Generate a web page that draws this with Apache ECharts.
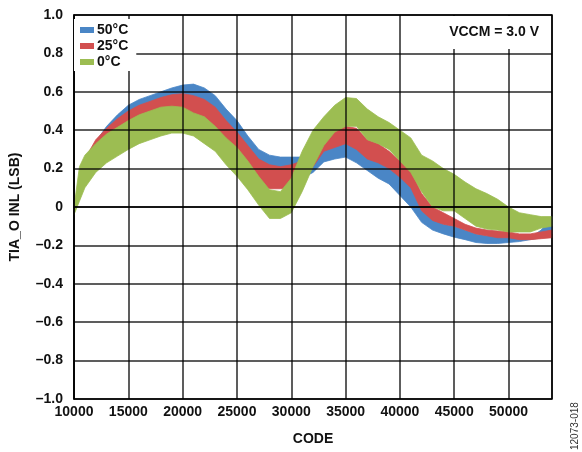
<!DOCTYPE html>
<html>
<head>
<meta charset="utf-8">
<script src="https://cdn.jsdelivr.net/npm/echarts@6/dist/echarts.min.js"></script>
<style>
  html, body { margin: 0; padding: 0; background: #fff; }
  #chart { width: 582px; height: 452px; }
</style>
</head>
<body>
<div id="chart"></div>
<script>
// x positions (CODE)
const codes = [10000, 10500, 11000, 12000, 13000, 14000, 15000, 16000, 17000, 18000, 19000,
  20000, 21000, 22000, 23000, 24000, 25000, 26000, 27000, 28000, 29000, 30000, 31000, 32000,
  33000, 34000, 35000, 36000, 37000, 38000, 39000, 40000, 41000, 42000, 43000, 44000, 45000,
  46000, 47000, 48000, 49000, 50000, 51000, 52000, 53000, 54000]

// 50°C band
const hot_hi = [-0.01, 0.14, 0.24, 0.34, 0.42, 0.48, 0.53, 0.56, 0.58, 0.6, 0.62,
  0.635, 0.64, 0.62, 0.58, 0.51, 0.45, 0.37, 0.3, 0.27, 0.26, 0.26, 0.26, 0.27,
  0.3, 0.32, 0.33, 0.31, 0.27, 0.25, 0.21, 0.16, 0.12, -0.02, -0.06, -0.09, -0.1,
  -0.12, -0.14, -0.15, -0.155, -0.16, -0.16, -0.16, -0.12, -0.05]
const hot_lo = [-0.02, 0.06, 0.13, 0.2, 0.27, 0.33, 0.38, 0.41, 0.43, 0.45, 0.47,
  0.48, 0.49, 0.47, 0.43, 0.36, 0.3, 0.22, 0.15, 0.12, 0.11, 0.12, 0.15, 0.18,
  0.235, 0.25, 0.26, 0.23, 0.19, 0.15, 0.12, 0.06, 0.0, -0.08, -0.12, -0.14, -0.157,
  -0.17, -0.185, -0.19, -0.19, -0.185, -0.18, -0.17, -0.16, -0.14]

// 25°C band
const mid_hi = [-0.01, 0.15, 0.25, 0.35, 0.41, 0.46, 0.5, 0.53, 0.55, 0.57, 0.585,
  0.59, 0.58, 0.56, 0.52, 0.45, 0.39, 0.32, 0.25, 0.22, 0.21, 0.22, 0.24, 0.27,
  0.36, 0.4, 0.42, 0.41, 0.35, 0.33, 0.29, 0.24, 0.19, 0.07, 0.0, -0.03, -0.06,
  -0.09, -0.11, -0.12, -0.125, -0.13, -0.14, -0.14, -0.13, -0.12]
const mid_lo = [-0.02, 0.06, 0.13, 0.21, 0.27, 0.32, 0.35, 0.38, 0.4, 0.42, 0.435,
  0.44, 0.43, 0.41, 0.37, 0.3, 0.24, 0.17, 0.11, 0.095, 0.095, 0.1, 0.18, 0.21,
  0.29, 0.31, 0.33, 0.3, 0.25, 0.23, 0.2, 0.155, 0.1, -0.02, -0.07, -0.09, -0.1,
  -0.12, -0.14, -0.15, -0.16, -0.16, -0.17, -0.17, -0.165, -0.16]

// 0°C band
const cold_hi = [0.0, 0.21, 0.27, 0.33, 0.38, 0.415, 0.45, 0.48, 0.5, 0.52, 0.525,
  0.52, 0.49, 0.47, 0.42, 0.36, 0.31, 0.24, 0.16, 0.09, 0.08, 0.15, 0.29, 0.4,
  0.47, 0.53, 0.57, 0.565, 0.51, 0.47, 0.44, 0.4, 0.36, 0.27, 0.24, 0.2, 0.17,
  0.13, 0.095, 0.07, 0.04, 0.0, -0.03, -0.04, -0.05, -0.05]
const cold_lo = [-0.04, 0.03, 0.1, 0.18, 0.23, 0.265, 0.3, 0.33, 0.35, 0.37, 0.385,
  0.385, 0.37, 0.33, 0.29, 0.22, 0.16, 0.09, 0.01, -0.06, -0.06, -0.03, 0.08, 0.21,
  0.32, 0.39, 0.42, 0.42, 0.35, 0.33, 0.3, 0.24, 0.18, 0.08, 0.0, -0.02, -0.02,
  -0.06, -0.1, -0.115, -0.12, -0.13, -0.13, -0.13, -0.11, -0.1]

const seriesNames = ['50°C', '25°C', '0°C']
const colors = ['#4a86c6', '#d24f4f', '#9cbd52']
const bands = [[hot_lo, hot_hi], [mid_lo, mid_hi], [cold_lo, cold_hi]]
const font = '"Liberation Sans", Arial, Helvetica, sans-serif'

// 带状区域：在第一个数据项里用 api.coord 画整条多边形
function renderBand(params, api) {
  if (params.dataIndexInside !== 0) return null
  const n = params.dataInsideLength
  const top = []
  const bottom = []
  for (let k = 0; k < n; k++) {
    const x = api.value(0, k)
    top.push(api.coord([x, api.value(2, k)]))
    bottom.push(api.coord([x, api.value(1, k)]))
  }
  const color = api.visual('color')
  return {
    type: 'polygon',
    shape: { points: top.concat(bottom.reverse()) },
    style: { fill: color, stroke: color, lineWidth: 0.8 }
  }
}

const series = bands.map(([lo, hi], i) => ({
  name: seriesNames[i],
  type: 'custom',
  renderItem: renderBand,
  itemStyle: { color: colors[i] },
  encode: { x: 0, y: [1, 2] },
  data: codes.map((c, k) => [c, lo[k], hi[k]])
}))

const chart = echarts.init(document.getElementById('chart'))
chart.setOption({
  animation: false,
  textStyle: { fontFamily: font },
  grid: {
    left: 73, top: 15, right: 30, bottom: 53,
    show: true, borderColor: '#000', borderWidth: 1.5, backgroundColor: 'transparent'
  },
  legend: {
    data: seriesNames,
    orient: 'vertical',
    left: 74, top: 19,
    padding: [4, 8, 2, 6],
    itemGap: 2,
    itemWidth: 14, itemHeight: 6,
    icon: 'rect',
    backgroundColor: '#fff',
    textStyle: { fontSize: 14, fontWeight: 'bold', color: '#111', fontFamily: font, padding: [0, 0, 0, -2] },
    z: 10
  },
  xAxis: {
    type: 'value',
    min: 10000, max: 54000, interval: 5000,
    z: 3,
    name: 'CODE',
    nameLocation: 'middle',
    nameGap: 33,
    nameTextStyle: { fontSize: 14, fontWeight: 'bold', color: '#111' },
    axisLine: { show: true, lineStyle: { color: '#000', width: 1.5 } },
    axisTick: { show: false },
    axisLabel: {
      fontSize: 14, fontWeight: 'bold', color: '#111', margin: 6,
      showMaxLabel: false,
      formatter: v => String(v)
    },
    splitLine: { show: true, lineStyle: { color: 'rgba(0,0,0,0.85)', width: 1.5 } }
  },
  yAxis: {
    type: 'value',
    min: -1, max: 1, interval: 0.2,
    z: 3,
    name: 'TIA_O INL (LSB)',
    nameLocation: 'middle',
    nameGap: 52,
    nameTextStyle: { fontSize: 14, fontWeight: 'bold', color: '#111' },
    axisLine: { show: true, lineStyle: { color: '#000', width: 1.5 } },
    axisTick: { show: false },
    axisLabel: {
      fontSize: 14, fontWeight: 'bold', color: '#111', margin: 11,
      formatter: v => {
        const r = Math.round(v * 10) / 10
        if (r === 0) return '0'
        return r < 0 ? '\u2013' + Math.abs(r).toFixed(1) : r.toFixed(1)
      }
    },
    splitLine: { show: true, lineStyle: { color: 'rgba(0,0,0,0.85)', width: 1.5 } }
  },
  graphic: [
    {
      type: 'rect', z: 20,
      shape: { x: 436, y: 16, width: 115, height: 33 },
      style: { fill: '#fff' }
    },
    {
      type: 'text', z: 21,
      right: 43, top: 25,
      style: { text: 'VCCM = 3.0 V', font: 'bold 14px ' + font, fill: '#111' }
    },
    {
      type: 'text', z: 21,
      x: 570, y: 450, rotation: Math.PI / 2,
      style: { text: '12073-018', font: '10px ' + font, fill: '#333' }
    }
  ],
  series: series
})
</script>
</body>
</html>
